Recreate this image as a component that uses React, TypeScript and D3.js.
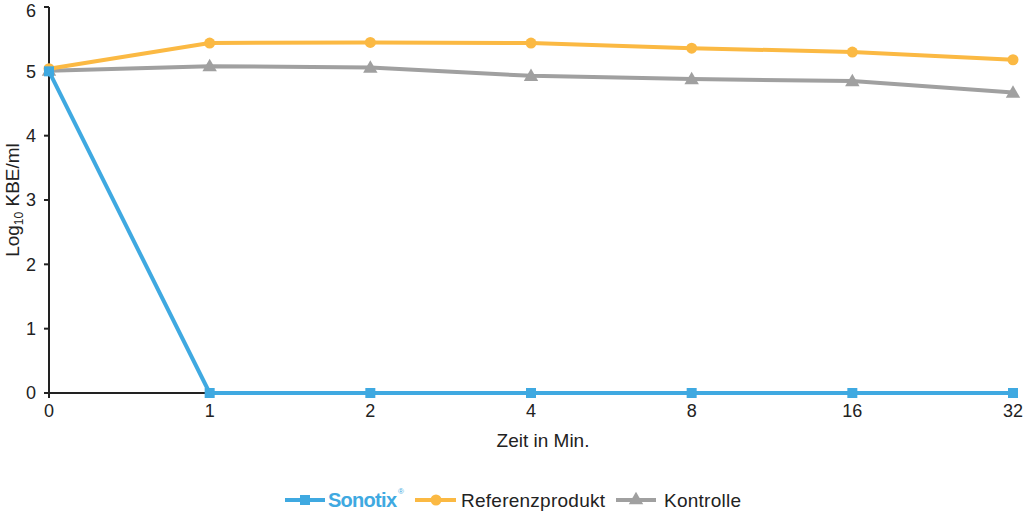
import React from "react";
import * as d3 from "d3";

const categories = ["0", "1", "2", "4", "8", "16", "32"];
const sonotix = [5.0, 0, 0, 0, 0, 0, 0];
const referenz = [5.04, 5.44, 5.45, 5.44, 5.36, 5.3, 5.18];
const kontrolle = [5.01, 5.08, 5.06, 4.93, 4.88, 4.85, 4.67];
const yTicks = [0, 1, 2, 3, 4, 5, 6];

const BLUE = "#3fa9e1";
const ORANGE = "#fbb943";
const GREY = "#a0a0a0";
const FONT = "'Liberation Sans', Arial, Helvetica, sans-serif";

export default function App() {
  const W = 1024, H = 512;
  const x = d3.scalePoint<string>().domain(categories).range([49, 1013]);
  const y = d3.scaleLinear().domain([0, 6]).range([393, 7]);
  const line = d3.line<number>().x((_, i) => x(categories[i])!).y((d) => y(d));
  const tri = d3.symbol().type(d3.symbolTriangle).size(90)()!;
  const series = [
    { name: "Sonotix", data: sonotix, color: BLUE, marker: "square" },
    { name: "Referenz", data: referenz, color: ORANGE, marker: "circle" },
    { name: "Kontrolle", data: kontrolle, color: GREY, marker: "triangle" },
  ];
  const marker = (m: string, cx: number, cy: number, color: string, key: any) => {
    if (m === "square") return <rect key={key} x={cx - 5} y={cy - 5} width={10} height={10} fill={color} />;
    if (m === "circle") return <circle key={key} cx={cx} cy={cy} r={5.5} fill={color} />;
    return <path key={key} d={tri} transform={`translate(${cx},${cy + 1})`} fill={color} />;
  };
  return (
    <svg width={W} height={H} style={{ position: "absolute", left: 0, top: 0 }} fontFamily={FONT}>
      <rect width={W} height={H} fill="#fff" />
      {/* axes */}
      <line x1={49} x2={1013} y1={y(0)} y2={y(0)} stroke="#222" strokeWidth={2} />
      <line x1={49} x2={49} y1={y(6)} y2={y(0) + 5} stroke="#222" strokeWidth={2} />
      {yTicks.map((t) => (
        <g key={t}>
          <line x1={44} x2={49} y1={y(t)} y2={y(t)} stroke="#222" strokeWidth={2} />
          <text x={36} y={Math.max(y(t), 11)} dy="0.36em" textAnchor="end" fontSize={18} fill="#222">{t}</text>
        </g>
      ))}
      {categories.map((c) => (
        <g key={c}>
          <line x1={x(c)!} x2={x(c)!} y1={y(0)} y2={y(0) + 5} stroke="#222" strokeWidth={2} />
          <text x={x(c)!} y={y(0) + 24} textAnchor="middle" fontSize={18} fill="#222">{c}</text>
        </g>
      ))}
      <text x={543} y={447} textAnchor="middle" fontSize={19} fill="#222">Zeit in Min.</text>
      <text transform="translate(19,200) rotate(-90)" textAnchor="middle" fontSize={19} fill="#222">
        Log<tspan fontSize={12} dy={4}>10</tspan><tspan dy={-4}> KBE/ml</tspan>
      </text>
      {/* series: draw grey, orange, then blue on top */}
      {[series[2], series[1], series[0]].map((s) => (
        <g key={s.name}>
          <path d={line(s.data)!} fill="none" stroke={s.color} strokeWidth={4} strokeLinejoin="round" />
          {s.data.map((v, i) => marker(s.marker, x(categories[i])!, y(v), s.color, i))}
        </g>
      ))}
      {/* legend */}
      <g>
        <line x1={285} x2={325} y1={500} y2={500} stroke={BLUE} strokeWidth={4} />
        {marker("square", 305, 500, BLUE, "l1")}
        <text x={328} y={507} fontSize={20} fontWeight={600} fill={BLUE} textLength={69}>Sonotix</text>
        <text x={398} y={494} fontSize={8} fill={BLUE}>®</text>
        <line x1={415} x2={456} y1={500} y2={500} stroke={ORANGE} strokeWidth={4} />
        {marker("circle", 436, 500, ORANGE, "l2")}
        <text x={461} y={507} fontSize={19} fill="#222" textLength={144}>Referenzprodukt</text>
        <line x1={616} x2={656} y1={500} y2={500} stroke={GREY} strokeWidth={4} />
        {marker("triangle", 636, 499, GREY, "l3")}
        <text x={664} y={507} fontSize={19} fill="#222" textLength={77}>Kontrolle</text>
      </g>
    </svg>
  );
}
